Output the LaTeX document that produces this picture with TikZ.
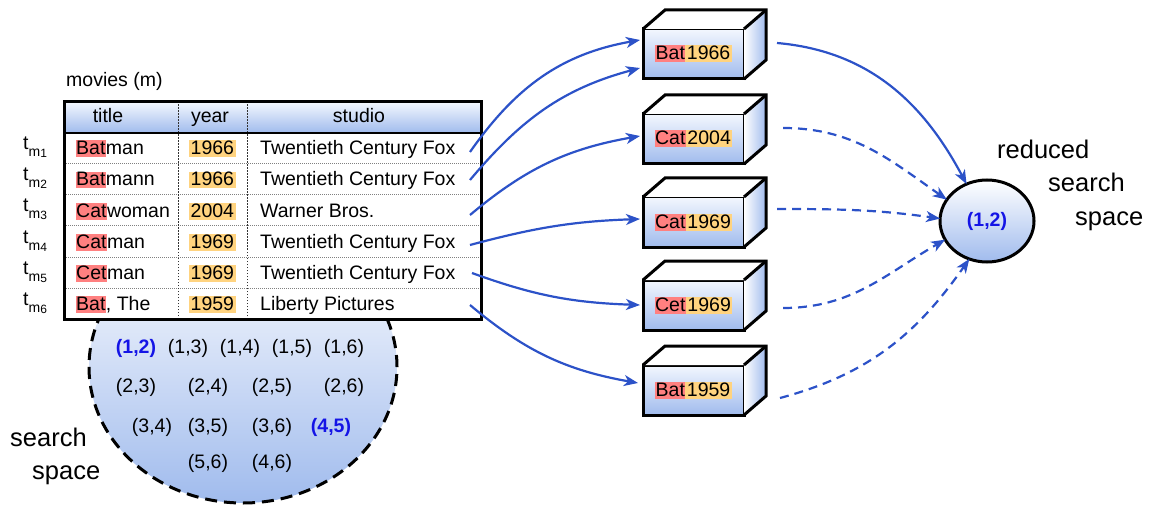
\documentclass[tikz,border=0pt]{standalone}
\usepackage{fontspec}
\setmainfont{Liberation Sans}
\usetikzlibrary{arrows.meta,shapes.geometric}

\definecolor{hlred}{RGB}{255,128,128}
\definecolor{hlorange}{RGB}{255,211,127}
\definecolor{flowblue}{RGB}{44,82,200}
\definecolor{pairblue}{RGB}{20,20,230}
\definecolor{shadetop}{RGB}{243,247,254}
\definecolor{shadebot}{RGB}{160,187,237}

% highlighted prefixes (red) and years (orange)
\newcommand\hlr[1]{{\setlength{\fboxsep}{0pt}\colorbox{hlred}{\rule[-2.5pt]{0pt}{17pt}\hspace{0.5pt}#1\hspace{0.5pt}}}}
\newcommand\hlo[1]{{\setlength{\fboxsep}{0pt}\colorbox{hlorange}{\rule[-2.5pt]{0pt}{17pt}\hspace{1.5pt}#1\hspace{1.5pt}}}}

% tuple label t_{m_i}
\newcommand\tlabel[1]{t\raisebox{-7pt}{\fontsize{14}{14}\selectfont m\raisebox{-1pt}{\fontsize{12}{12}\selectfont #1}}}

\tikzset{
  base/.style={font=\fontsize{19.5}{23}\selectfont},
  cell/.style={base, anchor=base west, inner sep=0pt},
  big/.style={font=\fontsize{25.5}{30}\selectfont, anchor=base west, inner sep=0pt},
  pair/.style={base, inner sep=0pt},
  hit/.style={inner sep=0pt, text=pairblue, font=\fontsize{19.5}{23}\selectfont\bfseries},
  boxfront/.style={base, draw, line width=3pt, minimum width=101, minimum height=50,
    inner sep=0pt, outer sep=0pt, top color=shadetop, bottom color=shadebot},
  flow/.style={draw=flowblue, line width=2.2pt, -{Stealth[length=14pt,width=11pt,inset=4pt]}},
  flowdash/.style={flow, dash pattern=on 9pt off 6pt},
}

% block key drawn as a cuboid: name, position, prefix, year
\newcommand\cuboid[4]{%
  \node[boxfront] (#1) at (#2) {\hlr{#3}\hlo{#4}};
  \fill[white] (#1.north west) -- ++(22,19) -- ++(101,0) -- (#1.north east) -- cycle;
  \shade[left color=white, right color=shadebot] (#1.north east) -- ++(22,19) -- ++(0,-50) -- (#1.south east) -- cycle;
  \draw[line width=3pt] (#1.north west) -- ++(22,19) -- ++(101,0) -- ++(0,-50) -- (#1.south east);
  \draw[line width=3pt] (#1.north east) -- ++(22,19);
}

\begin{document}
\begin{tikzpicture}[x=1pt,y=1pt]
\useasboundingbox (0,0) rectangle (1153,504);

% full search space
\shade[top color=white, bottom color=shadebot] (243,137) ellipse [x radius=154, y radius=136];
\draw[line width=3pt, dash pattern=on 12pt off 7pt] (243,137) ellipse [x radius=154, y radius=136];

% relation table
\node[cell] (movies) at (66,417) {movies (m)};
\fill[white] (64,185) rectangle (481,402);
\shade[top color=shadetop, bottom color=shadebot] (64,371) rectangle (481,402);
\foreach \y in {340,309,278,247,216}
  \draw[gray, line width=1pt, dash pattern=on 1pt off 1pt] (64,\y) -- (481,\y);
\foreach \x in {178,247}
  \draw[black!80, line width=1pt, dash pattern=on 1.5pt off 1.5pt] (\x,185) -- (\x,402);
\draw[line width=1.5pt] (64,371) -- (481,371);
\draw[line width=3pt] (64,185) rectangle (481,402);

\node[base, anchor=base, inner sep=0pt] (htitle) at (108,381) {title};
\node[base, anchor=base, inner sep=0pt] (hyear) at (210,381) {year};
\node[base, anchor=base, inner sep=0pt] (hstudio) at (359,381) {studio};

\foreach \i/\ti/\yr/\st in {
  1/{\hlr{Bat}man}/1966/{Twentieth Century Fox},
  2/{\hlr{Bat}mann}/1966/{Twentieth Century Fox},
  3/{\hlr{Cat}woman}/2004/{Warner Bros.},
  4/{\hlr{Cat}man}/1969/{Twentieth Century Fox},
  5/{\hlr{Cet}man}/1969/{Twentieth Century Fox},
  6/{\hlr{Bat}, The}/1959/{Liberty Pictures}} {
  \node[cell] (t\i) at (23,{354-31*(\i-1)}) {\tlabel{\i}};
  \node[cell] (ti\i) at (75.5,{349-31*(\i-1)}) {\ti};
  \node[cell] (yr\i) at (189,{349-31*(\i-1)}) {\hlo{\yr}};
  \node[cell] (st\i) at (260,{349-31*(\i-1)}) {\st};
}

% arrow sources at the row ends
\coordinate (r1) at (470,352);
\coordinate (r2) at (470,324);
\coordinate (r3) at (470,289);
\coordinate (r4) at (470,259);
\coordinate (r5) at (472,231);
\coordinate (r6) at (470,199);

% candidate pairs
\node[hit]  (p12) at (136,156) {(1,2)};
\node[pair] (p13) at (188,156) {(1,3)};
\node[pair] (p14) at (240,156) {(1,4)};
\node[pair] (p15) at (292,156) {(1,5)};
\node[pair] (p16) at (344,156) {(1,6)};
\node[pair] (p23) at (136,117) {(2,3)};
\node[pair] (p24) at (208,117) {(2,4)};
\node[pair] (p25) at (272,117) {(2,5)};
\node[pair] (p26) at (344,117) {(2,6)};
\node[pair] (p34) at (152,77) {(3,4)};
\node[pair] (p35) at (208,77) {(3,5)};
\node[pair] (p36) at (272,77) {(3,6)};
\node[hit]  (p45) at (331,77) {(4,5)};
\node[pair] (p56) at (208,41) {(5,6)};
\node[pair] (p46) at (272,41) {(4,6)};

\node[big] (ss1) at (10,58) {search};
\node[big] (ss2) at (32,25) {space};

% blocks
\cuboid{b1}{693.5,450}{Bat}{1966}
\cuboid{b2}{693.5,365}{Cat}{2004}
\cuboid{b3}{693.5,282}{Cat}{1969}
\cuboid{b4}{693.5,199}{Cet}{1969}
\cuboid{b5}{693.5,114}{Bat}{1959}

% reduced search space
\node[hit, ellipse, draw=black, line width=3pt, minimum width=94, minimum height=82,
      outer sep=0pt, top color=white, bottom color=shadebot] (red) at (987,283) {(1,2)};
\node[big] (rs1) at (997,345) {reduced};
\node[big] (rs2) at (1048,312) {search};
\node[big] (rs3) at (1075,279) {space};

% tuples into blocks
\draw[flow] (r1) to[out=55,in=190] ([xshift=-3,yshift=14]b1.west);
\draw[flow] (r2) to[out=50,in=195] ([xshift=-3,yshift=-14]b1.west);
\draw[flow] (r3) to[out=40,in=190] ([xshift=-3,yshift=3]b2.west);
\draw[flow] (r4) to[out=15,in=182] ([xshift=-3,yshift=3]b3.west);
\draw[flow] (r5) to[out=-20,in=178] ([xshift=-3]b4.west);
\draw[flow] (r6) to[out=-40,in=170] ([xshift=-5,yshift=7]b5.west);

% blocks into the reduced space
\draw[flow]     ([xshift=33,yshift=11]b1.east) to[out=-5,in=118] (red.119);
\draw[flowdash] ([xshift=39,yshift=11]b2.east) to[out=0,in=145] (red.152);
\draw[flowdash] ([xshift=33,yshift=13]b3.east) to[out=0,in=172] (red.177);
\draw[flowdash] ([xshift=39,yshift=-3]b4.east) to[out=0,in=210] (red.204);
\draw[flowdash] ([xshift=36,yshift=-8]b5.east) to[out=15,in=235] (red.245);
\end{tikzpicture}
\end{document}
